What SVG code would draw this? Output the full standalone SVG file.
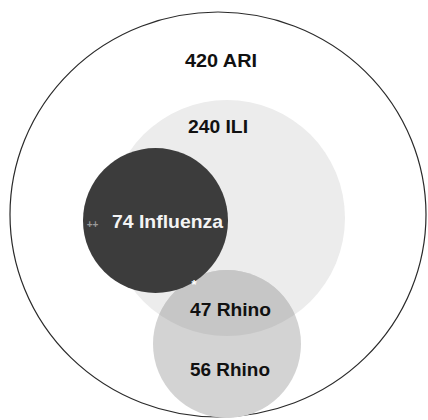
<svg xmlns="http://www.w3.org/2000/svg" width="428" height="420" viewBox="0 0 428 420">
  <style>
    .lbl { font-family: "Liberation Sans", Arial, sans-serif; font-weight: bold; font-size: 19px; text-anchor: middle; }
    .dark { fill: #111111; }
    .light { fill: #f4f4f4; }
  </style>
  <defs>
    <clipPath id="iliClip">
      <circle cx="227" cy="218" r="118"/>
    </clipPath>
  </defs>
  <rect width="428" height="420" fill="#ffffff"/>
  <g id="ari">
    <ellipse cx="218" cy="214.5" rx="208" ry="202.5" fill="#ffffff" stroke="#2a2a2a" stroke-width="1.2"/>
    <text class="lbl dark" x="221" y="66.5" textLength="72" lengthAdjust="spacingAndGlyphs">420 ARI</text>
  </g>
  <g id="ili">
    <circle cx="227" cy="218" r="118" fill="#ececec"/>
    <text class="lbl dark" x="218" y="133" textLength="60" lengthAdjust="spacingAndGlyphs">240 ILI</text>
  </g>
  <g id="rhino">
    <circle cx="227" cy="344" r="74" fill="#d3d3d3"/>
    <circle cx="227" cy="344" r="74" fill="#c6c6c6" clip-path="url(#iliClip)"/>
    <text class="lbl dark" x="230.5" y="316" textLength="81" lengthAdjust="spacingAndGlyphs">47 Rhino</text>
    <text class="lbl dark" x="230" y="376" textLength="80" lengthAdjust="spacingAndGlyphs">56 Rhino</text>
  </g>
  <g id="influenza">
    <circle cx="155.5" cy="220.5" r="72.5" fill="#3c3c3c"/>
    <text class="lbl light" x="167.5" y="227.5" textLength="111" lengthAdjust="spacingAndGlyphs">74 Influenza</text>
    <text x="92.5" y="228" font-family="'Liberation Sans', Arial, sans-serif" font-size="10" font-weight="bold" fill="#9a9a9a" text-anchor="middle">++</text>
    <text x="194" y="289" font-family="'Liberation Sans', Arial, sans-serif" font-size="13" font-weight="bold" fill="#ffffff" text-anchor="middle">*</text>
  </g>
  <g id="connectors"/>
</svg>
